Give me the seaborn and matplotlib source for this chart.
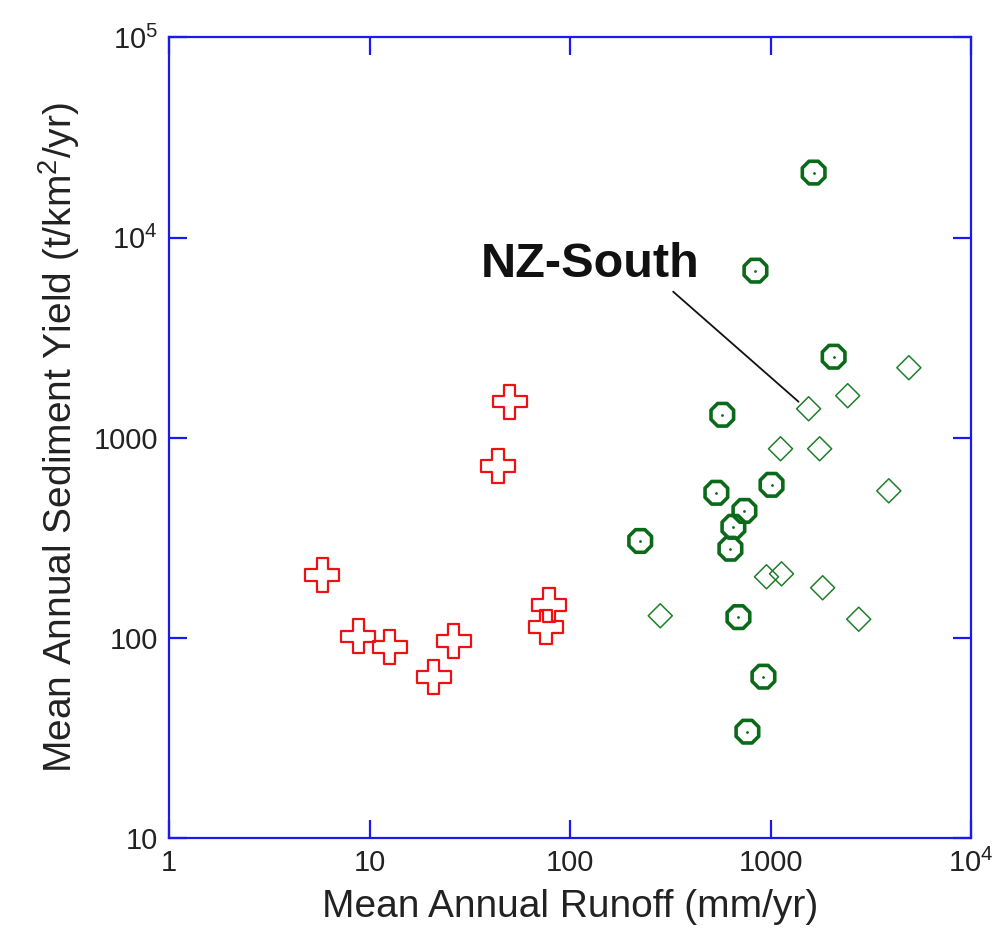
import matplotlib
matplotlib.use("Agg")
import matplotlib.pyplot as plt
import seaborn as sns
import pandas as pd
from matplotlib.ticker import NullLocator

# ---- data ----
runoff_cross = [5.82, 8.81, 12.6, 20.9, 26.3, 43.7, 50.1, 78.5, 75.9]
yield_cross = [206, 102, 90, 63.8, 96.6, 724, 1514, 146, 113.5]

runoff_circle = [1641, 841, 2065, 575, 537, 1012, 741, 653, 631, 224, 692, 922, 767]
yield_circle = [21135, 6839, 2541, 1303, 531, 582, 431, 359, 279, 305, 127, 64, 34]

runoff_diamond = [1549, 2427, 4898, 1122, 1758, 3890, 955, 1135, 1820, 2754, 282]
yield_diamond = [1396, 1622, 2239, 881, 881, 543, 202, 209, 178, 124, 129]

x_ticks = [1, 10, 100, 1000, 10000]
x_ticklabels = ["1", "10", "100", "1000", "$10^4$"]
y_ticks = [10, 100, 1000, 10000, 100000]
y_ticklabels = ["10", "100", "1000", "$10^4$", "$10^5$"]

annot_text = "NZ-South"
annot_text_pos = (126, 7330)
annot_line_start = (327, 5370)
annot_line_end = (1380, 1514)

# ---- style ----
sns.set_theme(style="white")
plt.rcParams["font.family"] = ["Liberation Sans", "DejaVu Sans"]
plt.rcParams["mathtext.fontset"] = "custom"
plt.rcParams["mathtext.rm"] = "Liberation Sans"
plt.rcParams["mathtext.it"] = "Liberation Sans"
plt.rcParams["mathtext.bf"] = "Liberation Sans:bold"

df_cross = pd.DataFrame({"runoff": runoff_cross, "yield": yield_cross})
df_circle = pd.DataFrame({"runoff": runoff_circle, "yield": yield_circle})
df_diamond = pd.DataFrame({"runoff": runoff_diamond, "yield": yield_diamond})

fig = plt.figure(figsize=(10, 9.35), dpi=100)
ax = fig.add_axes([0.169, 0.1037, 0.802, 0.8562])
ax.set_xscale("log")
ax.set_yscale("log")

red = "#ee1111"
dgreen = "#0a6a1a"
lgreen = "#1f7f2a"

sns.scatterplot(data=df_cross, x="runoff", y="yield", ax=ax, marker="P",
                s=600, facecolor="none", edgecolor=red, linewidth=1.6, zorder=3)
sns.scatterplot(data=df_circle, x="runoff", y="yield", ax=ax, marker="8",
                s=310, facecolor="none", edgecolor=dgreen, linewidth=2.6, zorder=3)
sns.scatterplot(data=df_circle, x="runoff", y="yield", ax=ax, marker="o",
                s=4, color=dgreen, edgecolor=dgreen, linewidth=0, zorder=4)
sns.scatterplot(data=df_diamond, x="runoff", y="yield", ax=ax, marker="D",
                s=150, facecolor="none", edgecolor=lgreen, linewidth=1.1, zorder=3)

ax.set_xlim(1, 10000)
ax.set_ylim(10, 100000)
ax.set_xticks(x_ticks)
ax.set_xticklabels(x_ticklabels)
ax.set_yticks(y_ticks)
ax.set_yticklabels(y_ticklabels)
ax.xaxis.set_minor_locator(NullLocator())
ax.yaxis.set_minor_locator(NullLocator())

blue = "#1a1aee"
for sp in ax.spines.values():
    sp.set_visible(True)
    sp.set_color(blue)
    sp.set_linewidth(1.6)
ax.tick_params(which="major", direction="in", length=13, width=1.6,
               color=blue, top=True, right=True, bottom=True, left=True,
               labelsize=21, labelcolor="#222222", pad=8)

ax.set_xlabel("Mean Annual Runoff (mm/yr)", fontsize=28, color="#222222", labelpad=8)
ax.set_ylabel("Mean Annual Sediment Yield (t/km$^2$/yr)", fontsize=28,
              color="#222222", labelpad=8)

ax.text(annot_text_pos[0], annot_text_pos[1], annot_text, fontsize=35,
        fontweight="bold", color="#111111", ha="center", va="center", zorder=5)
ax.annotate("", xy=annot_line_end, xytext=annot_line_start,
            arrowprops=dict(arrowstyle="-", color="#111111", lw=1.3,
                            shrinkA=0, shrinkB=0))

ax.grid(False)
fig.savefig("out.png", dpi=100, facecolor="white")
